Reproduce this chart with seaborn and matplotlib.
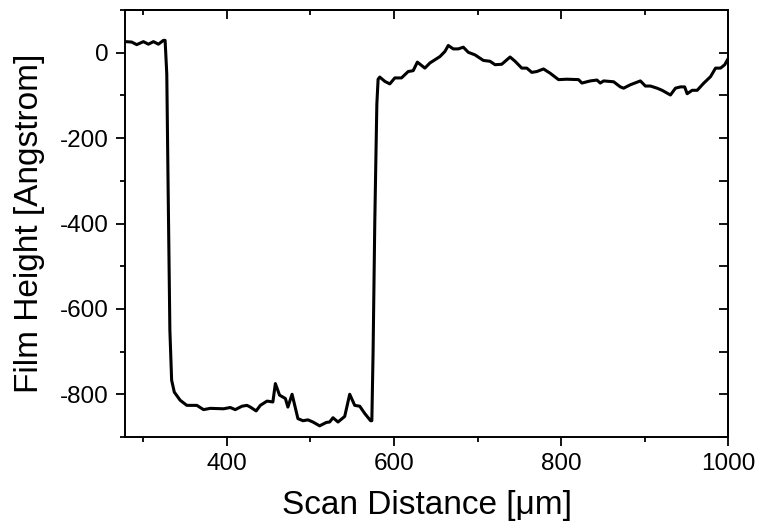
import matplotlib
matplotlib.use("Agg")
import matplotlib.pyplot as plt
from matplotlib.ticker import MultipleLocator
import seaborn as sns
import pandas as pd

scan_distance = [279, 286, 292, 300, 306, 312, 318, 324, 326, 328, 329.5, 331.7, 333.8, 337,
                 344, 352, 364, 372, 380, 396, 404, 410, 418, 424, 428, 435, 440, 448, 455,
                 458, 463, 470, 473, 478, 485, 491, 497, 503, 511, 519, 523, 527, 533, 541,
                 547, 553, 559, 565, 572, 573.5, 575, 577, 578.5, 579.5, 581, 583, 589, 595,
                 601, 609, 617, 623, 628, 637, 643, 655, 661, 665, 671, 677, 683, 689, 697,
                 707, 715, 721, 729, 739, 745, 753, 759, 765, 771, 779, 787, 797, 807, 821,
                 825, 835, 843, 847, 851, 863, 871, 875, 883, 895, 901, 907, 915, 921, 931,
                 937, 943, 948, 951, 957, 963, 971, 979, 985, 991, 996, 1000]
film_height = [26, 25, 19, 26, 20, 26, 20, 29, 29, -50, -300, -650, -767, -795,
               -814, -826, -826, -836, -833, -834, -831, -836, -828, -826, -830, -839, -826, -816, -818,
               -775, -802, -810, -830, -800, -857, -862, -860, -865, -874, -866, -865, -855, -865, -852,
               -800, -826, -828, -845, -862, -862, -700, -400, -230, -120, -62, -57, -67, -73,
               -59, -59, -44, -42, -22, -36, -24, -9, 3, 17, 9, 9, 13, 1, -5,
               -18, -20, -28, -27, -10, -20, -36, -36, -46, -44, -38, -48, -63, -62, -63,
               -71, -66, -64, -71, -66, -68, -80, -83, -75, -66, -78, -78, -83, -88, -99,
               -83, -80, -80, -96, -88, -88, -71, -56, -36, -36, -28, -14]

x_ticks = [400, 600, 800, 1000]
y_ticks = [0, -200, -400, -600, -800]

df = pd.DataFrame({"x": scan_distance, "y": film_height})

sns.set_style("ticks")
plt.rcParams["font.family"] = ["Liberation Sans", "DejaVu Sans"]
plt.rcParams["axes.unicode_minus"] = False
plt.rcParams["text.color"] = "black"
plt.rcParams["axes.labelcolor"] = "black"
plt.rcParams["xtick.color"] = "black"
plt.rcParams["ytick.color"] = "black"

fig = plt.figure(figsize=(7.6, 5.29), dpi=100)
ax = fig.add_axes([0.1645, 0.174, 0.7935, 0.807])

sns.lineplot(data=df, x="x", y="y", ax=ax, color="black", linewidth=2.2,
             estimator=None, sort=False)

ax.set_xlim(278, 1000)
ax.set_ylim(-900, 100)
ax.set_xticks(x_ticks)
ax.set_yticks(y_ticks)
ax.xaxis.set_minor_locator(MultipleLocator(100))
ax.yaxis.set_minor_locator(MultipleLocator(100))

for sp in ax.spines.values():
    sp.set_visible(True)
    sp.set_linewidth(1.4)
    sp.set_color("black")

ax.tick_params(which="both", direction="out", colors="black", labelcolor="black",
               width=1.3, labelsize=17.5, top=False, right=False, pad=5)
ax.tick_params(which="major", length=6.5)
ax.tick_params(which="minor", length=3.5)

# top and right: inward ticks, no labels
secx = ax.secondary_xaxis("top")
secx.set_xticks(x_ticks)
secx.xaxis.set_minor_locator(MultipleLocator(100))
secx.tick_params(which="both", direction="in", labeltop=False, width=1.3, colors="black")
secx.tick_params(which="major", length=6.5)
secx.tick_params(which="minor", length=3.5)
secx.spines["top"].set_linewidth(1.4)

secy = ax.secondary_yaxis("right")
secy.set_yticks(y_ticks)
secy.yaxis.set_minor_locator(MultipleLocator(100))
secy.tick_params(which="both", direction="in", labelright=False, width=1.3, colors="black")
secy.tick_params(which="major", length=6.5)
secy.tick_params(which="minor", length=6.5)
secy.spines["right"].set_linewidth(1.4)

ax.set_xlabel("Scan Distance [μm]", fontsize=24, labelpad=11, color="black")
ax.set_ylabel("Film Height [Angstrom]", fontsize=24, labelpad=11, color="black")

fig.savefig("out.png", dpi=100)
